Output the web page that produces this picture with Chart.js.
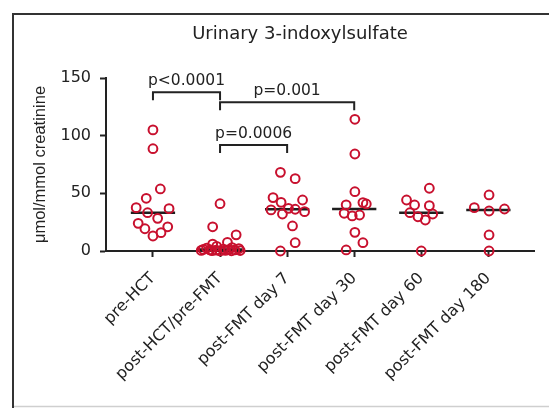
<!DOCTYPE html>
<html><head><meta charset="utf-8">
<script src="https://cdn.jsdelivr.net/npm/chart.js@4.4.1/dist/chart.umd.min.js"></script>
<style>html,body{margin:0;padding:0;background:#fff;}canvas{display:block;}</style>
</head><body>
<canvas id="c" width="549" height="408"></canvas>
<script>
const categories = ['pre-HCT','post-HCT/pre-FMT','post-FMT day 7','post-FMT day 30','post-FMT day 60','post-FMT day 180'];
const yTicks = [0, 50, 100, 150];

const preHCT        = [105, 88.7, 53.8, 45.7, 37.6, 36.7, 33.2, 28.3, 24, 21, 19.3, 15.9, 13];
const preHCTJitter  = [0, 0, 0.11, -0.1, -0.25, 0.24, -0.08, 0.07, -0.22, 0.22, -0.12, 0.12, 0];
const postHCT       = [41, 21, 14, 7.5, 6, 4, 3, 2.5, 2, 1.6, 1.4, 1.2, 1, 0.9, 0.8, 0.6, 0.5, 0.4, 0.3, 0.2, 0.1];
const postHCTJitter = [0, -0.11, 0.24, 0.11, -0.11, -0.05, 0.18, -0.2, 0.28, 0.05, -0.25, 0.13, -0.15, 0.22, -0.06, 0.08, -0.28, 0.3, -0.12, 0.17, 0];
const day7          = [68.2, 62.7, 46.3, 44.2, 42.2, 37, 36.2, 35.6, 34.1, 32.1, 21.7, 7.2, 0];
const day7Jitter    = [-0.1, 0.12, -0.21, 0.23, -0.09, 0.02, 0.12, -0.24, 0.26, -0.07, 0.08, 0.12, -0.1];
const day30         = [114.2, 84.1, 51.4, 42, 40.8, 40, 32.7, 31.2, 30.4, 16.2, 7.2, 0.9];
const day30Jitter   = [0.01, 0.01, 0.01, 0.13, 0.18, -0.12, -0.15, 0.08, -0.03, 0.01, 0.13, -0.12];
const day60         = [54.4, 44.2, 39.9, 39.3, 33.2, 32.1, 29.7, 26.9, 0];
const day60Jitter   = [0.12, -0.22, -0.1, 0.12, -0.17, 0.17, -0.05, 0.06, 0];
const day180        = [48.6, 37.6, 36.4, 34.7, 13.9, 0];
const day180Jitter  = [0.01, -0.21, 0.24, 0.01, 0.01, 0.01];

const groups  = [preHCT, postHCT, day7, day30, day60, day180];
const jitters = [preHCTJitter, postHCTJitter, day7Jitter, day30Jitter, day60Jitter, day180Jitter];

const comparisons = [
  {from: 0, to: 1, level: 137.6, label: 'p<0.0001'},
  {from: 1, to: 3, level: 129.0, label: 'p=0.001'},
  {from: 1, to: 2, level: 91.9,  label: 'p=0.0006'}
];

function median(a) {
  const s = [...a].sort((p, q) => p - q);
  const n = s.length;
  return n % 2 ? s[(n - 1) / 2] : (s[n / 2 - 1] + s[n / 2]) / 2;
}

const pointData = [];
groups.forEach((g, i) => g.forEach((v, j) => pointData.push({x: i + jitters[i][j], y: v})));

const medianSets = groups.map((g, i) => {
  const m = median(g);
  return {
    type: 'line',
    data: [{x: i - 0.33, y: m}, {x: i + 0.33, y: m}],
    borderColor: '#1e1e1e', borderWidth: 2.5, pointRadius: 0, order: 2, clip: false
  };
});

const INK = '#222';

const decor = {
  id: 'decor',
  beforeDraw(chart) {
    const ctx = chart.ctx;
    ctx.save();
    ctx.fillStyle = '#fff';
    ctx.fillRect(0, 0, chart.width, chart.height);
    ctx.strokeStyle = '#cfcfcf'; ctx.lineWidth = 1.5;
    ctx.beginPath(); ctx.moveTo(12, 406.5); ctx.lineTo(549, 406.5); ctx.stroke();
    ctx.strokeStyle = '#333'; ctx.lineWidth = 2;
    ctx.beginPath(); ctx.moveTo(13, 408); ctx.lineTo(13, 14); ctx.lineTo(549, 14); ctx.stroke();
    ctx.restore();
  },
  afterDraw(chart) {
    const ctx = chart.ctx, xs = chart.scales.x, ys = chart.scales.y;
    ctx.save();
    ctx.fillStyle = INK;
    ctx.font = '18px "DejaVu Sans"';
    ctx.textAlign = 'center'; ctx.textBaseline = 'middle';
    ctx.fillText('Urinary 3-indoxylsulfate', 300, 34);
    ctx.strokeStyle = INK; ctx.lineWidth = 2;
    ctx.font = '15.5px "DejaVu Sans"';
    ctx.textBaseline = 'alphabetic';
    comparisons.forEach(c => {
      const x1 = xs.getPixelForValue(c.from), x2 = xs.getPixelForValue(c.to);
      const y = ys.getPixelForValue(c.level);
      ctx.beginPath();
      ctx.moveTo(x1, y + 8); ctx.lineTo(x1, y); ctx.lineTo(x2, y); ctx.lineTo(x2, y + 8);
      ctx.stroke();
      ctx.fillText(c.label, (x1 + x2) / 2, y - 7.5);
    });
    ctx.restore();
  }
};

new Chart(document.getElementById('c'), {
  type: 'scatter',
  data: {
    datasets: [{
      data: pointData,
      pointStyle: 'circle', pointRadius: 4.4, borderWidth: 2,
      borderColor: '#c8102e', backgroundColor: 'rgba(255,255,255,0)',
      order: 1, clip: false
    }, ...medianSets]
  },
  options: {
    responsive: false, animation: false, devicePixelRatio: 1,
    layout: {padding: {left: 0, right: 15, top: 78, bottom: 0}},
    plugins: {legend: {display: false}, tooltip: {enabled: false}},
    scales: {
      x: {
        type: 'linear', min: -0.7, max: 5.68,
        afterBuildTicks: s => { s.ticks = categories.map((c, i) => ({value: i})); },
        afterFit: s => { s.height = 157; },
        ticks: {
          callback: v => categories[v], autoSkip: false, minRotation: 45, maxRotation: 45,
          color: INK, font: {family: 'DejaVu Sans', size: 16}, padding: 12
        },
        grid: {display: true, drawOnChartArea: false, drawTicks: true, tickLength: 6, tickColor: INK, tickWidth: 2},
        border: {display: true, color: INK, width: 2}
      },
      y: {
        min: 0, max: 150,
        afterBuildTicks: s => { s.ticks = yTicks.map(v => ({value: v})); },
        afterFit: s => { s.width = 106; },
        ticks: {color: INK, font: {family: 'DejaVu Sans', size: 16}, padding: 9},
        grid: {display: true, drawOnChartArea: false, drawTicks: true, tickLength: 6, tickColor: INK, tickWidth: 2},
        border: {display: true, color: INK, width: 2},
        title: {display: true, text: 'μmol/mmol creatinine', color: INK,
                font: {family: 'Liberation Sans', size: 16.5}, padding: {top: 31, bottom: 0}}
      }
    }
  },
  plugins: [decor]
});
</script>
</body></html>
